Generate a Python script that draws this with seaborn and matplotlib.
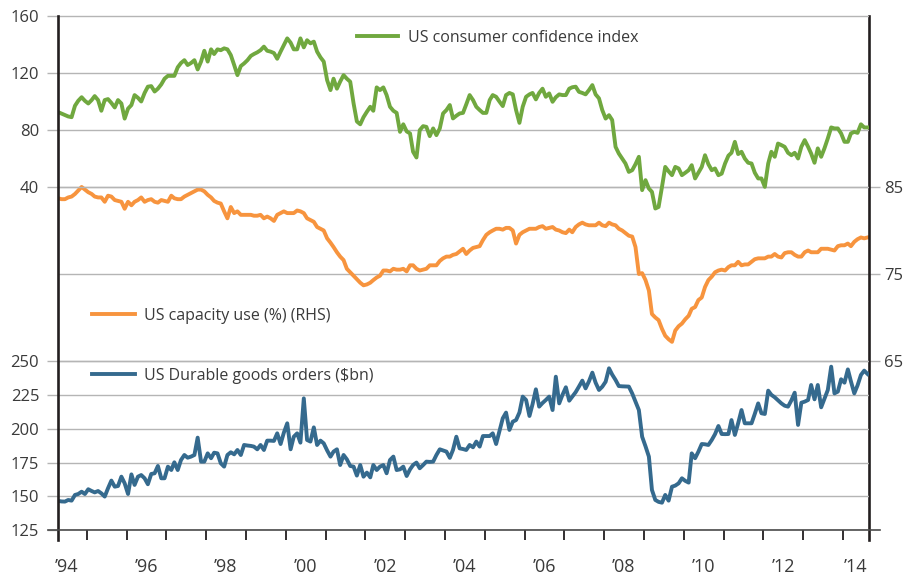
import numpy as np
import pandas as pd
import seaborn as sns
import matplotlib
matplotlib.use('Agg')
import matplotlib.pyplot as plt
import matplotlib.dates as mdates
from matplotlib.ticker import FixedLocator, FixedFormatter, NullFormatter

plt.rcParams['font.family'] = ['Open Sans', 'DejaVu Sans']

# Monatswerte ab April 1994 (je Zeile 10 Monate)
confidence = [
    92.5, 91.5, 90.5, 89.5, 89, 97, 100.5, 103, 100.5, 98.6,
    101, 103.8, 101, 93.5, 101, 101.7, 99, 95.8, 101, 98.6,
    88, 95, 97.5, 104.5, 102.6, 100, 106, 110.4, 110.8, 107,
    109, 112, 116, 118, 118, 118, 124, 127, 129, 125.6,
    127, 129, 122.5, 128, 135.6, 128, 136.6, 133.3, 136.6, 136,
    137.3, 136.6, 132.6, 125.6, 118.5, 124.9, 126.7, 129, 132, 133.3,
    134.5, 136, 138.5, 135.6, 135, 134, 130, 135, 139.6, 144.3,
    141.3, 136.6, 136.6, 144.3, 138, 143, 140.8, 142, 135, 131,
    128, 115, 108, 116, 109, 114, 118.5, 116, 113.9, 98.6,
    86, 84, 89, 92.8, 96.3, 93.5, 109.9, 108, 109.9, 104.5,
    96.3, 93.5, 92, 78.7, 84, 79, 77.6, 64.7, 60.7, 79.9,
    82.7, 82.2, 75.7, 81.1, 76.4, 81.1, 91.6, 94, 97.5, 88.1,
    90, 91.6, 92, 98, 104.5, 101, 96.3, 94, 92, 92,
    101, 104.5, 103.3, 100, 96.8, 104.5, 106, 105, 94, 85,
    96.3, 103.3, 105, 106, 101.5, 106, 109, 103.3, 105.7, 99.8,
    103, 105, 104.5, 104.5, 109, 110, 110.4, 106.8, 106, 105,
    108, 111.5, 105, 102.2, 94, 88, 90.4, 87, 68.2, 63.5,
    60, 56.5, 50.6, 51.8, 56, 61.2, 37.8, 44.8, 38.9, 36.6,
    24.9, 26, 40, 54.1, 51, 48.3, 54.1, 53, 48.3, 50,
    51.8, 55.3, 46, 50, 54.1, 62.3, 56, 51.8, 53, 48.3,
    49.4, 56.5, 62, 64, 71.7, 63.1, 64.7, 60, 57, 56.5,
    50, 46, 46, 40.1, 56.5, 64.7, 61.2, 70.5, 69.4, 68.2,
    64, 62.3, 64, 60, 68.2, 72.9, 68.2, 63.5, 57, 67.1,
    61.2, 67.1, 74.1, 81.8, 81.1, 81.1, 77.6, 71.7, 71.7, 77.6,
    78.7, 78, 84, 81.8, 81.8,
]

capacity = [
    83.7, 83.6, 83.6, 83.8, 83.9, 84.2, 84.6, 85, 84.7, 84.4,
    84.2, 83.9, 83.8, 83.8, 83.3, 84, 83.9, 83.5, 83.4, 83.3,
    82.5, 83.3, 82.9, 83.3, 83.5, 83.8, 83.3, 83.5, 83.6, 83.3,
    83.2, 83.5, 83.4, 83.3, 84, 83.7, 83.6, 83.6, 83.9, 84.1,
    84.3, 84.5, 84.7, 84.7, 84.5, 84.1, 83.8, 83.4, 83.2, 83.1,
    82.2, 81.4, 82.7, 82, 82.2, 81.8, 81.8, 81.8, 81.8, 81.7,
    81.7, 81.8, 81.4, 81.6, 81.4, 81.1, 81.8, 82, 82.2, 82,
    82, 82, 82.3, 82.2, 82, 81.4, 81.2, 81, 80.4, 80.2,
    80, 79.1, 78.6, 78.1, 77.5, 77, 76.6, 75.6, 75.2, 74.8,
    74.4, 74, 73.7, 73.8, 74, 74.3, 74.6, 74.8, 75.4, 75.4,
    75.3, 75.6, 75.5, 75.5, 75.6, 75.3, 76, 76, 75.6, 75.4,
    75.5, 75.6, 76, 76, 76, 76.5, 76.8, 77, 77, 77.2,
    77.3, 77.6, 77.9, 77.3, 77.7, 78, 78.1, 78.2, 78.9, 79.5,
    79.8, 80, 80.2, 80.2, 80.1, 80.3, 80.3, 80, 78.5, 79.5,
    79.8, 80, 80.2, 80.2, 80.2, 80.4, 80.5, 80.2, 80.3, 80.4,
    80.1, 80, 79.8, 79.7, 80.1, 79.8, 80.4, 80.7, 80.9, 80.7,
    80.6, 80.6, 80.6, 80.9, 80.6, 80.5, 80.9, 80.7, 80.6, 80.2,
    80, 79.7, 79.4, 79.3, 78.1, 75, 75.1, 74.3, 73.1, 70.4,
    70, 69.7, 68.7, 67.9, 67.5, 67.2, 68.5, 69, 69.3, 69.8,
    70.2, 71, 71.2, 72, 72.3, 73.5, 74.3, 74.7, 75.2, 75.4,
    75.5, 75.4, 75.8, 76, 76, 76.4, 76, 76.1, 76.1, 76.4,
    76.7, 76.8, 76.8, 76.8, 77, 77, 77.3, 77, 76.9, 77.4,
    77.5, 77.5, 77.2, 77, 77, 77.5, 77.7, 77.5, 77.5, 77.5,
    77.9, 77.9, 77.9, 77.8, 77.7, 78.2, 78.3, 78.3, 78.5, 78.2,
    78.7, 79, 79.2, 79.1, 79.2,
]

durables = [
    146.7, 146.3, 146.2, 147.4, 146.9, 151.1, 151.8, 153.5, 151.8, 155.3,
    154, 153, 154, 152.3, 149.9, 156, 161.7, 157.2, 157.7, 164.6,
    159.7, 151.8, 166.3, 158.5, 164.6, 165.8, 163.4, 159, 166.6, 167.1,
    172.5, 163.4, 163.4, 172, 169.5, 175.2, 169.5, 176.9, 180.6, 178.6,
    179.4, 180.6, 193.4, 175.7, 175.7, 181.8, 178.2, 182.3, 181.8, 174.5,
    172, 180.6, 182.6, 181.1, 184.3, 180.6, 188, 187.6, 187.3, 186.8,
    184.8, 188, 184.3, 191.2, 191.2, 191, 196.6, 188.7, 197.1, 204,
    184.8, 194.1, 196.6, 189.7, 222.4, 191.7, 190.5, 201, 188, 191.2,
    189.2, 184, 179.4, 183.1, 184.8, 173.2, 180.6, 177.4, 172.5, 172,
    165.4, 173.2, 164.6, 167.6, 164.1, 173.2, 169.5, 172, 173.2, 167.1,
    176.9, 179.4, 169.5, 170, 172, 165.1, 170, 173.2, 175, 170.8,
    173.2, 175.7, 175.5, 175.7, 180.6, 184.8, 184, 183.1, 178.5, 184.3,
    194.1, 185.5, 185, 184.3, 188, 186.3, 190.5, 186.8, 194.6, 194.6,
    194.6, 196.6, 188.7, 198, 207.7, 211.9, 199.1, 205.2, 206.4, 212,
    223.7, 221.2, 209.4, 218, 229.1, 216.3, 219, 221.2, 223.7, 213.8,
    238.4, 218.7, 225, 230.6, 220.7, 223.7, 227, 231.1, 235.5, 229.8,
    235, 241.4, 234, 228.6, 231, 234.7, 244.6, 240, 236, 231.5,
    231.3, 231.2, 231.1, 226, 220, 213.8, 194.1, 187, 179.4, 154.8,
    147.4, 146, 145.4, 151.1, 146.9, 157.2, 158, 159.7, 163.4, 161.5,
    160.2, 181.8, 178.2, 183, 188.7, 188.5, 188, 191.7, 196, 202,
    196.1, 196, 196.1, 206.4, 195.4, 204, 213.8, 204, 204, 204,
    211, 218.7, 211.4, 210.9, 228.1, 225, 223.2, 221, 218.7, 217,
    216.3, 221, 226.6, 202.8, 219.2, 220, 221.2, 232.3, 221.7, 232.3,
    215.8, 222, 228.6, 245.8, 226.1, 227.4, 236.5, 234, 243.8, 235,
    226.1, 232, 239.7, 242.9, 240.4,
]

conf_ticks = [40, 80, 120, 160]
cap_ticks = [65, 75, 85]
dur_ticks = [125, 150, 175, 200, 225, 250]
year_labels = ['\u201994', '\u201996', '\u201998', '\u201900', '\u201902', '\u201904',
               '\u201906', '\u201908', '\u201910', '\u201912', '\u201914']
label_years = list(range(1994, 2015, 2))

months = pd.date_range('1994-04-01', periods=260, freq='MS') + pd.Timedelta(days=14)

GREEN = '#70a83f'
ORANGE = '#f7943e'
BLUE = '#356a8e'
GRID = '#b5b5b5'
DARK = '#231f20'
TXT = '#3a3a3a'

W, H = 904, 577
fig = plt.figure(figsize=(W / 100, H / 100), dpi=100, facecolor='white')

# Achsenrahmen in Pixeln
L, R, T, B = 58.3, 869.0, 15.0, 530.3
ax_g = fig.add_axes([L / W, 1 - B / H, (R - L) / W, (B - T) / H])
ax_o = ax_g.twinx()
ax_b = ax_g.twinx()


def limits(v_ref, y_ref, ppu):
    # Wert v_ref liegt bei Pixelzeile y_ref, ppu = Pixel pro Einheit
    return v_ref - (B - y_ref) / ppu, v_ref + (y_ref - T) / ppu


g_lim = limits(160, 16.0, 1.425)
o_lim = limits(85, 187.0, 8.7)
b_lim = limits(125, 530.3, 1.3544)

sns.lineplot(x=months[:len(confidence)], y=confidence, ax=ax_g, color=GREEN, lw=2.8,
             label='US consumer confidence index')
sns.lineplot(x=months[:len(capacity)], y=capacity, ax=ax_o, color=ORANGE, lw=2.8,
             label='US capacity use (%) (RHS)')
sns.lineplot(x=months[:len(durables)], y=durables, ax=ax_b, color=BLUE, lw=2.8,
             label='US Durable goods orders ($bn)')

x0, x1 = pd.Timestamp('1994-04-15'), pd.Timestamp('2014-08-28')
ax_g.set_xlim(x0, x1)
ax_g.set_ylim(*g_lim)
ax_o.set_ylim(*o_lim)
ax_b.set_ylim(*b_lim)

ax_b.yaxis.tick_left()
ax_g.set_yticks(conf_ticks)
ax_o.set_yticks(cap_ticks)
ax_b.set_yticks(dur_ticks)

for ax in (ax_g, ax_o, ax_b):
    ax.set_xlabel('')
    ax.set_ylabel('')
    ax.patch.set_visible(False)
    for s in ax.spines.values():
        s.set_visible(False)
    ax.yaxis.grid(True, color=GRID, lw=1.0)
    ax.xaxis.grid(False)
    ax.tick_params(axis='y', length=7.8, width=1.0, color=GRID,
                   labelsize=12, labelcolor=TXT, pad=6)
ax_o.tick_params(axis='y', pad=3)

ax_o.set_zorder(1)
ax_b.set_zorder(2)
ax_g.set_zorder(3)

# x-Achse: Striche an Jahresanfang, Beschriftung zur Jahresmitte
ax_g.xaxis.set_major_locator(mdates.YearLocator(1, month=1, day=1))
ax_g.xaxis.set_major_formatter(NullFormatter())
lab_pos = [mdates.date2num(pd.Timestamp(f'{y}-07-01')) for y in label_years]
lab_pos[-1] = mdates.date2num(pd.Timestamp('2014-05-01'))
ax_g.xaxis.set_minor_locator(FixedLocator(lab_pos))
ax_g.xaxis.set_minor_formatter(FixedFormatter(year_labels))
ax_g.tick_params(axis='x', which='major', length=7.5, width=1.3, color=DARK)
ax_g.tick_params(axis='x', which='minor', length=0, labelsize=13,
                 labelcolor=TXT, pad=20)

# Rahmenlinien, unten leicht über die Achse hinaus
ax_g.spines['left'].set_visible(True)
ax_g.spines['left'].set(color=DARK, lw=1.9)
ax_g.spines['left'].set_bounds(g_lim[0] - 10 / 1.425, 160)
ax_o.spines['right'].set_visible(True)
ax_o.spines['right'].set(color=DARK, lw=1.9)
ax_o.spines['right'].set_bounds(o_lim[0] - 10 / 8.7, 85 + 171 / 8.7)
span = mdates.date2num(x1) - mdates.date2num(x0)
ax_g.spines['bottom'].set_visible(True)
ax_g.spines['bottom'].set(color='#4a4a4a', lw=1.2)
ax_g.spines['bottom'].set_bounds(mdates.date2num(x0) - span * 10 / (R - L),
                                 mdates.date2num(x1) + span * 11 / (R - L))

leg_kw = dict(loc='center left', frameon=False, borderpad=0, borderaxespad=0,
              fontsize=11.5, labelcolor=TXT, bbox_transform=fig.transFigure)
ax_g.legend(bbox_to_anchor=(357 / W, 1 - 38 / H), handlelength=2.56,
            handletextpad=0.62, **leg_kw)
ax_o.legend(bbox_to_anchor=(92 / W, 1 - 316 / H), handlelength=2.7,
            handletextpad=0.56, **leg_kw)
ax_b.legend(bbox_to_anchor=(92 / W, 1 - 376 / H), handlelength=2.7,
            handletextpad=0.56, **leg_kw)

plt.savefig('out.png', dpi=100, facecolor='white')
